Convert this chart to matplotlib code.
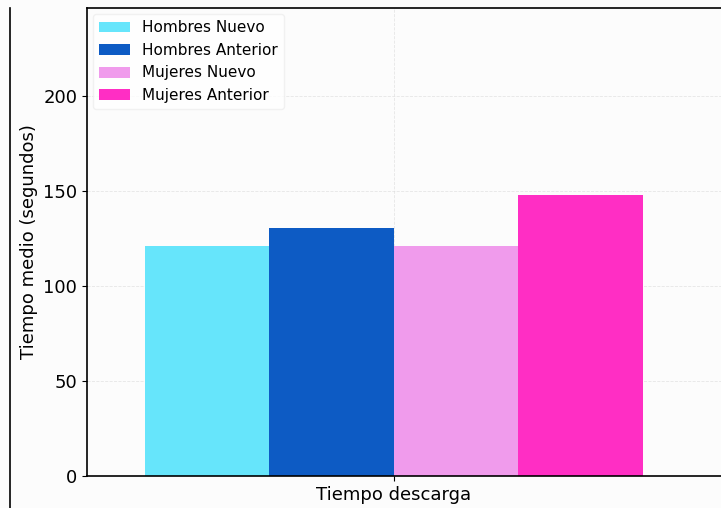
import numpy as np
import matplotlib.pyplot as plt
from matplotlib.lines import Line2D

# datos
categoria = ["Tiempo descarga"]
series = ["Hombres Nuevo", "Hombres Anterior", "Mujeres Nuevo", "Mujeres Anterior"]
valores = [121.0, 130.5, 120.8, 147.6]
colores = ["#66e5fb", "#0d5bc4", "#f09bec", "#ff2ec4"]

ancho = 0.2
x = np.arange(len(categoria))

fig = plt.figure(figsize=(7.21, 5.08), dpi=100)
fig.patch.set_facecolor("#fcfcfc")
ax = fig.add_axes([87 / 721, 32 / 508, 1.095 * 621.5 / 721, 468 / 508])
ax.set_facecolor("#fcfcfc")

for i, (nombre, v, c) in enumerate(zip(series, valores, colores)):
    ax.bar(x + (i - 1.5) * ancho, [v], ancho, label=nombre, color=c)

ax.set_xlim(-0.4925, 0.6)
ax.set_ylim(0, 246)
ax.set_yticks([0, 50, 100, 150, 200])
ax.set_xticks(x)
ax.set_xticklabels(categoria, fontsize=13)
ax.tick_params(axis="y", labelsize=13)
ax.set_ylabel("Tiempo medio (segundos)", fontsize=13)
ax.grid(True, linestyle="--", linewidth=0.6, color="#dddddd", alpha=0.7)
ax.set_axisbelow(True)
ax.spines["right"].set_visible(False)
for s in ["left", "bottom", "top"]:
    ax.spines[s].set_linewidth(1.2)

ax.legend(loc="upper left", fontsize=11, framealpha=0.8, edgecolor="#eeeeee",
          handlelength=2, borderaxespad=0.4)

# borde izquierdo de la figura
fig.add_artist(Line2D([10 / 721, 10 / 721], [0, 1 - 8 / 508], color="black", linewidth=1.2))

fig.savefig("out.png", dpi=100, facecolor=fig.get_facecolor())
